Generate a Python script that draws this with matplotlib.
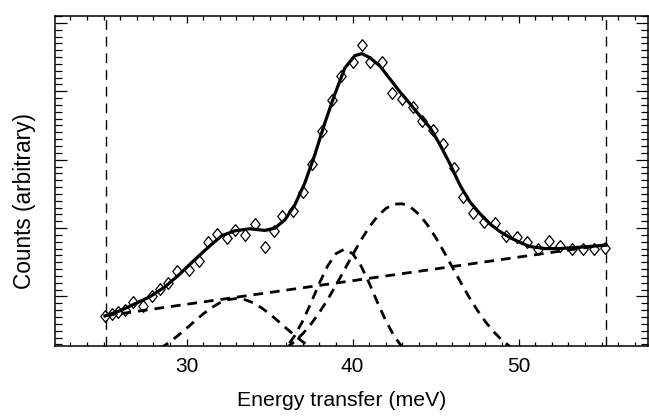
import matplotlib
matplotlib.use("Agg")
import matplotlib.pyplot as plt
from matplotlib.ticker import MultipleLocator, FixedLocator, NullFormatter

plt.rcParams['font.family'] = ['Liberation Sans', 'DejaVu Sans']

# measured points
energy = [25.08, 25.50, 25.86, 26.28, 26.75, 27.39, 27.89, 28.39, 28.86, 29.43,
          30.16, 30.72, 31.27, 31.84, 32.45, 32.91, 33.53, 34.11, 34.72, 35.26,
          35.72, 36.39, 36.99, 37.57, 38.17, 38.75, 39.30, 40.00, 40.54, 41.04,
          41.75, 42.35, 42.95, 43.61, 44.16, 44.82, 45.42, 46.10, 46.66, 47.27,
          47.91, 48.57, 49.23, 49.88, 50.53, 51.18, 51.80, 52.49, 53.19, 53.89,
          54.54, 55.20]
counts = [0.711, 0.740, 0.776, 0.806, 0.918, 0.864, 1.010, 1.108, 1.196, 1.365,
          1.390, 1.512, 1.795, 1.917, 1.854, 1.965, 1.902, 2.058, 1.716, 1.950,
          2.170, 2.243, 2.520, 2.936, 3.412, 3.865, 4.227, 4.427, 4.670, 4.427,
          4.427, 3.974, 3.890, 3.769, 3.558, 3.437, 3.228, 2.877, 2.447, 2.216,
          2.082, 2.070, 1.880, 1.873, 1.800, 1.693, 1.810, 1.731, 1.690, 1.693,
          1.693, 1.705]

# total fit
fit_x = [25.08, 25.98, 26.89, 27.79, 28.69, 29.60, 30.50, 31.40, 32.13, 32.91,
         33.81, 34.72, 35.32, 35.92, 36.52, 37.12, 37.72, 38.33, 38.93, 39.53,
         40.13, 40.56, 41.04, 41.64, 42.25, 42.85, 43.45, 44.05, 44.66, 45.26,
         45.86, 46.46, 47.07, 47.67, 48.27, 48.87, 49.48, 50.08, 50.68, 51.58,
         52.49, 53.69, 55.26]
fit_y = [0.716, 0.79, 0.893, 0.996, 1.14, 1.33, 1.54, 1.74, 1.89, 1.96,
         1.99, 1.965, 2.0, 2.12, 2.34, 2.66, 3.07, 3.54, 3.96, 4.34,
         4.52, 4.55, 4.49, 4.37, 4.18, 3.99, 3.82, 3.64, 3.47, 3.22,
         2.94, 2.63, 2.38, 2.21, 2.06, 1.95, 1.86, 1.79, 1.73, 1.70,
         1.70, 1.72, 1.75]

# background + peak components
bg_x = [25.08, 55.26]
bg_y = [0.716, 1.757]

g1_x = [27.5, 28.0, 28.5, 29.0, 29.5, 30.0, 30.5, 31.0, 31.5, 32.0, 32.5, 33.0,
        33.5, 34.0, 34.5, 35.0, 35.5, 36.0, 36.5, 37.0, 37.5, 38.0, 38.5]
g1_y = [0.131, 0.186, 0.254, 0.337, 0.432, 0.535, 0.642, 0.745, 0.836, 0.908,
        0.954, 0.970, 0.954, 0.908, 0.836, 0.745, 0.642, 0.535, 0.432, 0.337,
        0.254, 0.186, 0.131]

g2_x = [35.5, 36.0, 36.5, 37.0, 37.5, 38.0, 38.5, 39.0, 39.5, 40.0, 40.5, 41.0,
        41.5, 42.0, 42.5, 43.0, 43.5]
g2_y = [0.143, 0.255, 0.421, 0.644, 0.911, 1.195, 1.449, 1.626, 1.690, 1.626,
        1.449, 1.195, 0.911, 0.644, 0.421, 0.255, 0.143]

g3_x = [36.0, 36.5, 37.0, 37.5, 38.0, 38.5, 39.0, 39.5, 40.0, 40.5, 41.0, 41.5,
        42.0, 42.5, 43.0, 43.5, 44.0, 44.5, 45.0, 45.5, 46.0, 46.5, 47.0, 47.5,
        48.0, 48.5, 49.0, 49.5, 50.0]
g3_y = [0.247, 0.340, 0.456, 0.599, 0.766, 0.957, 1.166, 1.387, 1.609, 1.823,
        2.015, 2.173, 2.287, 2.350, 2.355, 2.304, 2.200, 2.049, 1.864, 1.653,
        1.431, 1.210, 0.997, 0.802, 0.630, 0.483, 0.361, 0.264, 0.188]

fit_range = [25.12, 55.24]
x_major = [30, 40, 50]

fig = plt.figure(figsize=(6.49, 4.17), dpi=100)
ax = fig.add_axes([0.0847, 0.1703, 0.9137, 0.7921])

dash_kw = dict(color='black', lw=2.0, dashes=(3.5, 2.5), dash_capstyle='butt')
ax.plot(bg_x, bg_y, **dash_kw)
ax.plot(g1_x, g1_y, **dash_kw)
ax.plot(g2_x, g2_y, **dash_kw)
ax.plot(g3_x, g3_y, **dash_kw)

for xv in fit_range:
    ax.axvline(xv, color='black', lw=1.0, dashes=(7, 5))

# tall open diamond like the IDL symbol
diamond = [(0, 1), (0.8, 0), (0, -1), (-0.8, 0), (0, 1)]
ax.plot(fit_x, fit_y, color='black', lw=2.3, zorder=4)
ax.plot(energy, counts, ls='none', marker=diamond, ms=8.5, mfc='none',
        mec='black', mew=0.9, zorder=5)

ax.set_xlim(22.07, 57.79)
ax.set_ylim(0.276, 5.105)

ax.xaxis.set_major_locator(FixedLocator(x_major))
ax.xaxis.set_minor_locator(MultipleLocator(1))
ax.yaxis.set_major_locator(MultipleLocator(1))
ax.yaxis.set_minor_locator(MultipleLocator(0.1))
ax.yaxis.set_major_formatter(NullFormatter())

ax.tick_params(axis='x', which='both', direction='in', top=True, bottom=True,
               width=0.9, labelsize=15, pad=8)
ax.tick_params(axis='x', which='major', length=5)
ax.tick_params(axis='x', which='minor', length=3)
ax.tick_params(axis='y', which='both', direction='in', left=True, right=True,
               width=0.9)
ax.tick_params(axis='y', which='major', length=8.6)
ax.tick_params(axis='y', which='minor', length=5)

for t in ax.yaxis.get_minor_ticks():
    t.tick2line.set_color('#b0b0b0')
    t.tick2line.set_linewidth(0.6)

for s in ax.spines.values():
    s.set_linewidth(1.1)

fig.text(342 / 649, 1 - 400 / 417, 'Energy transfer (meV)', fontsize=15.3,
         ha='center', va='center')
fig.text(25 / 649, 1 - 201 / 417, 'Counts (arbitrary)', fontsize=16.3,
         rotation=90, ha='center', va='center')

fig.savefig('out.png', dpi=100)
